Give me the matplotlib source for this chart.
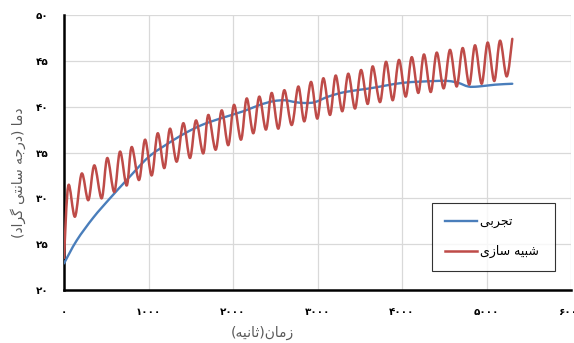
import matplotlib
matplotlib.use("Agg")
import matplotlib.pyplot as plt
from matplotlib.lines import Line2D
from matplotlib.path import Path
from matplotlib.patches import PathPatch

# experimental curve (blue)
exp_t = [0, 150, 347, 544, 742, 1000, 1234, 1432, 1630, 1846,
         2122, 2319, 2477, 2615, 2734, 2852, 2970, 3128, 3325, 3621, 4008,
         4390, 4548, 4666, 4785, 4903, 5100, 5305]
exp_T = [22.9, 25.4, 27.9, 30.0, 32.0, 34.5, 36.0, 37.1, 38.0, 38.7,
         39.5, 40.2, 40.6, 40.7, 40.5, 40.4, 40.5, 41.1, 41.6, 42.0, 42.6,
         42.8, 42.8, 42.6, 42.2, 42.2, 42.4, 42.5]

# simulation curve (red), peaks and troughs
sim_t = [0, 51, 130, 209, 288, 359, 446, 512, 595, 663, 742, 801, 888, 959,
         1038, 1109, 1187, 1254, 1334, 1412, 1491, 1562, 1648, 1708, 1795, 1866,
         1944, 2012, 2095, 2162, 2240, 2311, 2390, 2458, 2536, 2607, 2695, 2773,
         2844, 2923, 2998, 3069, 3148, 3215, 3293, 3364, 3444, 3515, 3594, 3653,
         3740, 3811, 3890, 3964, 4044, 4115, 4193, 4260, 4340, 4411, 4493, 4568,
         4647, 4718, 4796, 4864, 4943, 5014, 5092, 5160, 5239, 5305]
sim_T = [23.5, 31.4, 28.0, 32.7, 29.8, 33.6, 30.0, 34.4, 30.7, 35.1, 31.4, 35.6, 32.0, 36.4,
         32.5, 37.1, 33.3, 37.6, 34.0, 38.2, 34.4, 38.5, 34.9, 39.1, 35.3, 39.6,
         35.8, 40.2, 36.4, 40.9, 37.1, 41.1, 37.5, 41.5, 37.6, 41.8, 38.0, 42.2,
         38.4, 42.7, 38.7, 43.1, 39.1, 43.4, 39.5, 43.6, 39.8, 44.0, 40.3, 44.4,
         40.5, 44.9, 40.7, 45.1, 41.1, 45.4, 41.5, 45.7, 41.6, 45.9, 42.0, 46.2,
         42.2, 46.4, 42.4, 46.7, 42.5, 47.0, 42.8, 47.2, 43.3, 47.4]

x_ticks = [0, 1000, 2000, 3000, 4000, 5000, 6000]
y_ticks = [20, 25, 30, 35, 40, 45, 50]

FA = str.maketrans("0123456789", "\u06f0\u06f1\u06f2\u06f3\u06f4\u06f5\u06f6\u06f7\u06f8\u06f9")


def vis(forms):
    # forms are already-shaped presentation glyphs in logical order -> visual order
    return "".join(reversed(forms))


# hand shaped persian words (arabic presentation forms)
zaman = vis("\ufeaf\ufee3\ufe8e\ufee5")
sanieh = vis("\ufe9b\ufe8e\ufee7\ufbff\ufeea")
dama = vis("\ufea9\ufee3\ufe8e")
daraje = vis("\ufea9\ufead\ufe9f\ufeea")
santi = vis("\ufeb3\ufe8e\ufee7\ufe98\ufbfd")
gerad = vis("\ufb94\ufeae\ufe8d\ufea9")
tajrobi = vis("\ufe97\ufea0\ufeae\ufe91\ufbfd")
shabih = vis("\ufeb7\ufe92\ufbff\ufeea")
sazi = vis("\ufeb3\ufe8e\ufeaf\ufbfc")

xlabel = "(" + sanieh + ")" + zaman
ylabel = "(" + gerad + " " + santi + " " + daraje + ")" + " " + dama
lab_exp = tajrobi + " "
lab_sim = sazi + " " + shabih + " "

blue = "#4a7ebb"
red = "#be4b48"


def smooth_path(x, y, k=1 / 6):
    # excel-like smoothed line: bezier segments through the data points
    verts = [(x[0], y[0])]
    codes = [Path.MOVETO]
    n = len(x)
    for i in range(n - 1):
        a = max(i - 1, 0)
        b = min(i + 2, n - 1)
        c1 = (x[i] + (x[i + 1] - x[a]) * k, y[i] + (y[i + 1] - y[a]) * k)
        c2 = (x[i + 1] - (x[b] - x[i]) * k, y[i + 1] - (y[b] - y[i]) * k)
        verts += [c1, c2, (x[i + 1], y[i + 1])]
        codes += [Path.CURVE4] * 3
    return Path(verts, codes)


fig = plt.figure(figsize=(5.74, 3.43), dpi=100)
ax = fig.add_axes([0.1115, 0.1545, 0.8833, 0.8017])

ax.add_patch(PathPatch(smooth_path(exp_t, exp_T), fill=False, edgecolor=blue,
                       lw=1.7, capstyle="round", joinstyle="round", zorder=3))
ax.add_patch(PathPatch(smooth_path(sim_t, sim_T), fill=False, edgecolor=red,
                       lw=1.8, capstyle="round", joinstyle="round", zorder=3))

ax.set_xlim(0, 6000)
ax.set_ylim(20, 50)
ax.set_xticks(x_ticks)
ax.set_yticks(y_ticks)
ax.set_xticklabels([str(v).translate(FA) for v in x_ticks], fontsize=7.5, fontweight="bold")
ax.set_yticklabels([str(v).translate(FA) for v in y_ticks], fontsize=7.5, fontweight="bold")
ax.tick_params(axis="both", length=0)
ax.tick_params(axis="y", pad=11)
ax.tick_params(axis="x", pad=12)

ax.grid(True, color="#d9d9d9", lw=0.9)
ax.set_axisbelow(True)
for s in ["top", "right"]:
    ax.spines[s].set_visible(False)
for s in ["left", "bottom"]:
    ax.spines[s].set_color("black")
    ax.spines[s].set_linewidth(1.8)

fig.text(262 / 574, 1 - 333 / 343, xlabel, ha="center", va="center",
         fontsize=10, color="#595959")
fig.text(18 / 574, 1 - 173 / 343, ylabel, ha="center", va="center",
         rotation=90, fontsize=10, color="#595959")

handles = [Line2D([], [], color=blue, lw=1.7), Line2D([], [], color=red, lw=1.8)]
leg = ax.legend(handles, [lab_exp, lab_sim], loc="upper left",
                bbox_to_anchor=(0.726, 0.3164), fontsize=9, frameon=True,
                fancybox=False, borderpad=1.0, labelspacing=1.3,
                handlelength=2.6, handletextpad=0.2, borderaxespad=0)
leg.get_frame().set_edgecolor("black")
leg.get_frame().set_linewidth(0.8)

fig.savefig("out.png", dpi=100)
